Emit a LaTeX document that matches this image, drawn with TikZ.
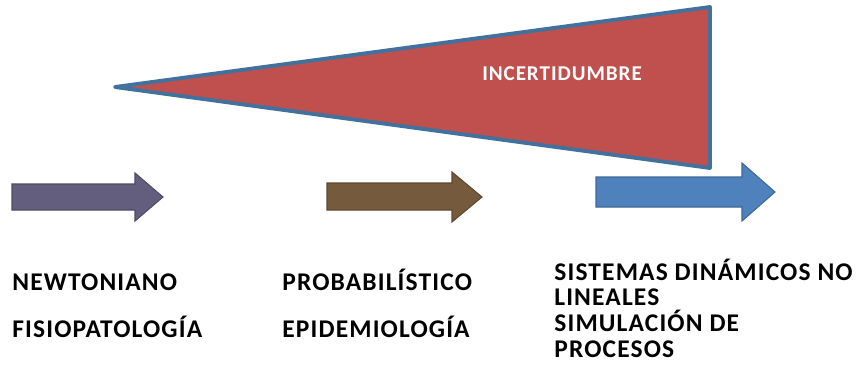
\documentclass[tikz,border=0pt]{standalone}
\usepackage{fontspec}
\setmainfont{Carlito}
\usepackage{tikz}
\definecolor{conored}{HTML}{C0504D}
\definecolor{coneline}{HTML}{41719C}
\definecolor{newtonfill}{HTML}{635E7D}
\definecolor{probfill}{HTML}{765A3E}
\definecolor{sistfill}{HTML}{4F81BD}
\tikzset{
    stage/.style={anchor=base west,inner sep=0pt,font=\bfseries\fontsize{14.5}{16}\selectfont\addfontfeatures{LetterSpace=4.5}},
    blockarrow/.style={draw=#1!80!black,fill=#1,line width=0.6pt,line join=miter},
}

\begin{document}
\begin{tikzpicture}[x=0.02cm,y=-0.02cm]
    \useasboundingbox (0,0) rectangle (857,371);

    % cone of uncertainty
    \filldraw[fill=conored,draw=coneline,line width=2.2pt,line join=round]
        (115,87) -- (710,7) -- (710,168) -- cycle;
    \node[anchor=center,text=white,font=\bfseries\fontsize{12}{14}\selectfont\addfontfeatures{LetterSpace=4.5}] (incert) at (562,74) {INCERTIDUMBRE};

    % arrows
    \path[blockarrow=newtonfill] (12,184) -- (135,184) -- (135,173) -- (163,197) -- (135,221) -- (135,210) -- (12,210) -- cycle;
    \path[blockarrow=probfill] (327,183) -- (452,183) -- (452,172) -- (482,197) -- (452,222) -- (452,210) -- (327,210) -- cycle;
    \path[blockarrow=sistfill] (596,177) -- (742,177) -- (742,163) -- (775,192) -- (742,221) -- (742,207) -- (596,207) -- cycle;

    % labels
    \node[stage] (newton) at (12,290) {NEWTONIANO};
    \node[stage] (fisio) at (12,337) {FISIOPATOLOGÍA};
    \node[stage] (prob) at (282,290) {PROBABILÍSTICO};
    \node[stage] (epid) at (282,337) {EPIDEMIOLOGÍA};
    \node[stage] (sist1) at (554,280) {SISTEMAS DINÁMICOS NO};
    \node[stage] (sist2) at (554,305) {LINEALES};
    \node[stage] (simul1) at (554,331) {SIMULACIÓN DE};
    \node[stage] (simul2) at (554,357) {PROCESOS};
\end{tikzpicture}
\end{document}
